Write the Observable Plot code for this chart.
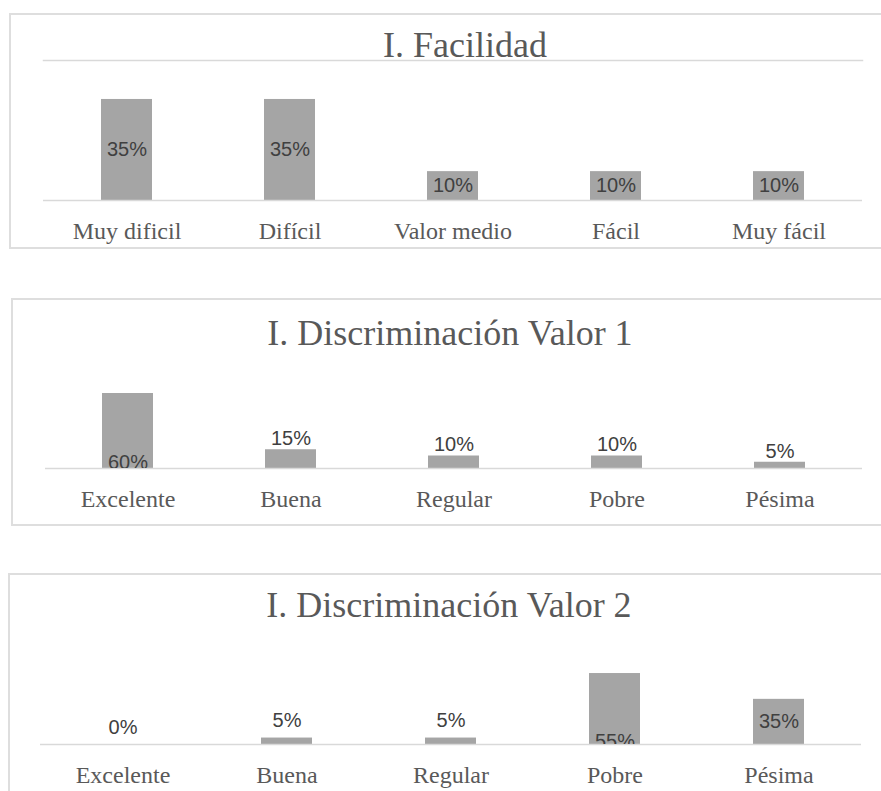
<!DOCTYPE html>
<html><head><meta charset="utf-8">
<script src="https://cdn.jsdelivr.net/npm/d3@7"></script>
<script src="https://cdn.jsdelivr.net/npm/@observablehq/plot@0.6"></script>
<style>
body{margin:0;width:881px;height:791px;overflow:hidden;background:#fff;position:relative;}
.box{position:absolute;border:2px solid #dedede;box-sizing:border-box;}
.title{position:absolute;font-family:"Liberation Serif",serif;font-size:36px;line-height:36px;color:#595959;text-align:center;white-space:nowrap;width:600px;}
.plot{position:absolute;left:0;}
</style></head><body>
<script>
// ---- data ----
const titles = ["I. Facilidad", "I. Discriminación Valor 1", "I. Discriminación Valor 2"];
const facilidadCats = ["Muy dificil", "Difícil", "Valor medio", "Fácil", "Muy fácil"];
const facilidadValues = [0.35, 0.35, 0.10, 0.10, 0.10];
const discCats = ["Excelente", "Buena", "Regular", "Pobre", "Pésima"];
const disc1Values = [0.60, 0.15, 0.10, 0.10, 0.05];
const disc2Values = [0.00, 0.05, 0.05, 0.55, 0.35];

const fmt = d3.format(".0%");
const BAR = "#a5a5a5", LINE = "#d9d9d9", TXT = "#595959", VAL = "#404040";

function addBox(left, top, height) {
  const b = document.createElement("div");
  b.className = "box";
  Object.assign(b.style, {left: left + "px", top: top + "px", width: "900px", height: height + "px"});
  document.body.appendChild(b);
}
function addTitle(text, cx, top) {
  const t = document.createElement("div");
  t.className = "title";
  t.textContent = text;
  Object.assign(t.style, {left: (cx - 300) + "px", top: top + "px"});
  document.body.appendChild(t);
}

function panel({cats, values, top, ml, mr, mt, plotH, mb, domainMax, frameTop, mode, aboveDy, baseDy}) {
  const data = cats.map((c, i) => ({cat: c, v: values[i]}));
  const maxV = d3.max(values);
  const textOpts = {x: "cat", text: d => fmt(d.v), fill: VAL, fontFamily: "Liberation Sans, Arial, sans-serif", fontSize: 20};
  const kind = d => mode === "center" ? "center" : (d.v === maxV ? "base" : (d.v >= 0.3 ? "center" : "above"));
  const marks = [
    Plot.barY(data, {x: "cat", y: "v", fill: BAR}),
    Plot.ruleY([0], {stroke: LINE, strokeWidth: 1.5}),
    Plot.text(data.filter(d => kind(d) === "center"), {...textOpts, y: d => d.v / 2}),
    Plot.text(data.filter(d => kind(d) === "above"), {...textOpts, y: "v", dy: aboveDy}),
    Plot.text(data.filter(d => kind(d) === "base"), {...textOpts, y: () => 0, dy: baseDy, clip: true}),
    Plot.axisX({tickSize: 0, tickPadding: 21, label: null})
  ];
  if (frameTop) marks.push(Plot.frame({anchor: "top", stroke: LINE, strokeWidth: 1.5}));
  const svg = Plot.plot({
    width: 881,
    height: mt + plotH + mb,
    marginTop: mt, marginBottom: mb, marginLeft: ml, marginRight: mr,
    x: {domain: cats, paddingInner: 0.69, paddingOuter: 0.345, axis: null},
    y: {domain: [0, domainMax], axis: null},
    style: {fontFamily: "Liberation Serif, serif", fontSize: "24px", color: TXT, background: "transparent", overflow: "visible"},
    marks
  });
  const wrap = document.createElement("div");
  wrap.className = "plot";
  wrap.style.top = (top - mt) + "px";
  wrap.appendChild(svg);
  document.body.appendChild(wrap);
}

// Panel 1
addBox(9, 13, 236);
addTitle(titles[0], 465, 27);
panel({cats: facilidadCats, values: facilidadValues, top: 60, ml: 43, mr: 19, mt: 1, plotH: 140, mb: 46,
  domainMax: 0.485, frameTop: true, mode: "center"});

// Panel 2
addBox(11, 298, 228);
addTitle(titles[1], 450, 315);
panel({cats: discCats, values: disc1Values, top: 360, ml: 45, mr: 19, mt: 0, plotH: 108, mb: 48,
  domainMax: 0.864, frameTop: false, mode: "auto", aboveDy: -11, baseDy: -6});

// Panel 3
addBox(8, 573, 260);
addTitle(titles[2], 449, 587);
panel({cats: discCats, values: disc2Values, top: 640, ml: 40, mr: 20, mt: 0, plotH: 104, mb: 47,
  domainMax: 0.806, frameTop: false, mode: "auto", aboveDy: -17, baseDy: -3});
</script>
</body></html>
